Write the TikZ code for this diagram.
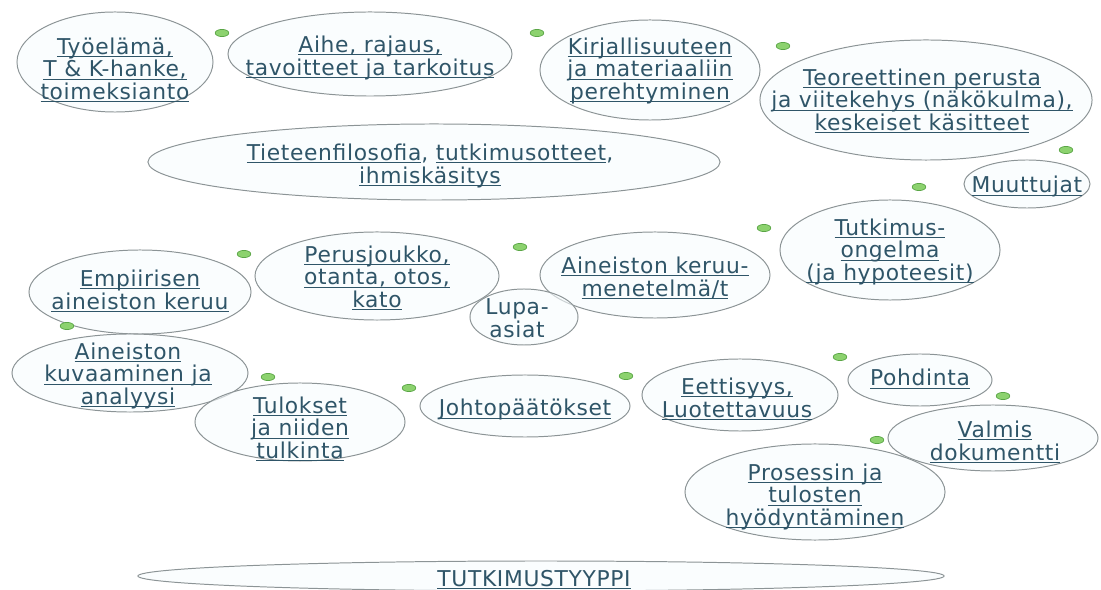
\documentclass[tikz,border=0pt]{standalone}
\usepackage{fontspec}
\setmainfont[LetterSpace=3]{DejaVu Sans}
\usepackage{tikz}
\usetikzlibrary{shapes.geometric}
\definecolor{rim}{RGB}{140,148,150}
\definecolor{bubblefill}{RGB}{246,251,253}
\definecolor{ink}{RGB}{47,85,104}
\definecolor{dotfill}{RGB}{140,210,110}
\definecolor{dotrim}{RGB}{90,165,70}
\def\ul#1{\underline{\raisebox{0pt}[\height][0pt]{#1}}}
\tikzset{
	bubble/.style={ellipse, draw=rim, line width=0.7pt, fill=bubblefill, fill opacity=0.6, inner sep=0pt},
	label text/.style={text=ink, align=center, inner sep=0pt, font=\fontsize{15.5}{16}\selectfont},
	greendot/.style={fill=dotfill, draw=dotrim, line width=0.5pt}
}

\begin{document}
\begin{tikzpicture}[x=0.025cm, y=-0.025cm]
			%%%%% START %%%%%
			\useasboundingbox (0, 0) rectangle (1101, 590);
			
			\node[bubble, minimum width=4.9cm, minimum height=2.5cm] (tyo) at (115, 62) {};
			\node[bubble, minimum width=7.1cm, minimum height=2.1cm] (aihe) at (370, 54) {};
			\node[bubble, minimum width=5.5cm, minimum height=2.5cm] (kirja) at (650, 70) {};
			\node[bubble, minimum width=8.3cm, minimum height=3cm] (teoria) at (926, 100) {};
			\node[bubble, minimum width=3.15cm, minimum height=1.2cm] (muuttujat) at (1027, 184) {};
			\node[bubble, minimum width=14.3cm, minimum height=1.9cm] (filosofia) at (434, 162) {};
			
			\node[bubble, minimum width=5.5cm, minimum height=2.5cm] (ongelma) at (890, 250) {};
			\node[bubble, minimum width=5.75cm, minimum height=2.15cm] (menetelma) at (655, 275) {};
			\node[bubble, minimum width=6.1cm, minimum height=2.2cm] (perusjoukko) at (377, 276) {};
			\node[bubble, minimum width=2.7cm, minimum height=1.4cm] (lupa) at (524, 317) {};
			\node[bubble, minimum width=5.55cm, minimum height=2.1cm] (keruu) at (140, 292) {};
			
			\node[bubble, minimum width=5.9cm, minimum height=1.95cm] (analyysi) at (130, 373) {};
			\node[bubble, minimum width=5.25cm, minimum height=1.95cm] (tulokset) at (300, 422) {};
			\node[bubble, minimum width=5.25cm, minimum height=1.55cm] (johto) at (525, 406) {};
			\node[bubble, minimum width=4.9cm, minimum height=1.8cm] (eettisyys) at (740, 395) {};
			\node[bubble, minimum width=3.6cm, minimum height=1.3cm] (pohdinta) at (920, 380) {};
			\node[bubble, minimum width=5.25cm, minimum height=1.65cm] (valmis) at (993, 438) {};
			\node[bubble, minimum width=6.5cm, minimum height=2.4cm] (hyoty) at (815, 492) {};
			
			\node[bubble, minimum width=20.15cm, minimum height=0.75cm] (tyyppi) at (541, 576) {};
			
			% texts
			\node[label text] (tyo-t) at (115, 70) {\ul{Työelämä,}\\\ul{T \& K-hanke,}\\\ul{toimeksianto}};
			\node[label text] (aihe-t) at (370, 57) {\ul{Aihe, rajaus,}\\\ul{tavoitteet ja tarkoitus}};
			\node[label text] (kirja-t) at (650, 70) {\ul{Kirjallisuuteen}\\\ul{ja materiaaliin}\\\ul{perehtyminen}};
			\node[label text] (teoria-t) at (922, 101) {\ul{Teoreettinen perusta}\\\ul{ja viitekehys (näkökulma),}\\\ul{keskeiset käsitteet}};
			\node[label text] (muuttujat-t) at (1027, 186) {\ul{Muuttujat}};
			\node[label text] (filosofia-t) at (430, 165) {\ul{Tieteenfilosofia}, \ul{tutkimusotteet},\\\ul{ihmiskäsitys}};
			
			\node[label text] (ongelma-t) at (890, 251) {\ul{Tutkimus-}\\\ul{ongelma}\\\ul{(ja hypoteesit)}};
			\node[label text] (menetelma-t) at (655, 278) {\ul{Aineiston keruu-}\\\ul{menetelmä/t}};
			\node[label text] (perusjoukko-t) at (377, 278) {\ul{Perusjoukko,}\\\ul{otanta, otos,}\\\ul{kato}};
			\node[label text] (lupa-t) at (517, 318) {Lupa-\\asiat};
			\node[label text] (keruu-t) at (140, 291) {\ul{Empiirisen}\\\ul{aineiston keruu}};
			
			\node[label text] (analyysi-t) at (128, 375) {\ul{Aineiston}\\\ul{kuvaaminen ja}\\\ul{analyysi}};
			\node[label text] (tulokset-t) at (300, 429) {\ul{Tulokset}\\\ul{ja niiden}\\\ul{tulkinta}};
			\node[label text] (johto-t) at (525, 409) {\ul{Johtopäätökset}};
			\node[label text] (eettisyys-t) at (737, 399) {\ul{Eettisyys,}\\\ul{Luotettavuus}};
			\node[label text] (pohdinta-t) at (920, 379) {\ul{Pohdinta}};
			\node[label text] (valmis-t) at (995, 442) {\ul{Valmis}\\\ul{dokumentti}};
			\node[label text] (hyoty-t) at (815, 496) {\ul{Prosessin ja}\\\ul{tulosten}\\\ul{hyödyntäminen}};
			
			\node[label text] (tyyppi-t) at (534, 580) {\ul{TUTKIMUSTYYPPI}};
			
			% green dots
			\draw[greendot] (222, 33) ellipse (0.17cm and 0.09cm);
			\draw[greendot] (537, 33) ellipse (0.17cm and 0.09cm);
			\draw[greendot] (783, 46) ellipse (0.17cm and 0.09cm);
			\draw[greendot] (1066, 150) ellipse (0.17cm and 0.09cm);
			\draw[greendot] (919, 187) ellipse (0.17cm and 0.09cm);
			\draw[greendot] (764, 228) ellipse (0.17cm and 0.09cm);
			\draw[greendot] (520, 247) ellipse (0.17cm and 0.09cm);
			\draw[greendot] (244, 254) ellipse (0.17cm and 0.09cm);
			\draw[greendot] (67, 326) ellipse (0.17cm and 0.09cm);
			\draw[greendot] (268, 377) ellipse (0.17cm and 0.09cm);
			\draw[greendot] (409, 388) ellipse (0.17cm and 0.09cm);
			\draw[greendot] (626, 376) ellipse (0.17cm and 0.09cm);
			\draw[greendot] (840, 357) ellipse (0.17cm and 0.09cm);
			\draw[greendot] (1003, 396) ellipse (0.17cm and 0.09cm);
			\draw[greendot] (877, 440) ellipse (0.17cm and 0.09cm);
			
			%%%%% END %%%%%
\end{tikzpicture}
\end{document}
